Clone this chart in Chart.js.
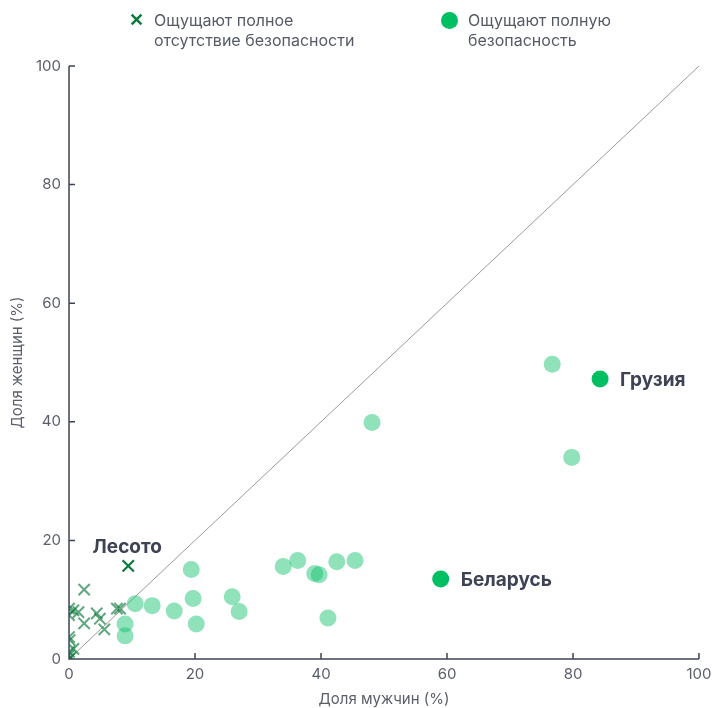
<!DOCTYPE html>
<html lang="ru">
<head>
  <meta charset="UTF-8" />
  <title>Безопасность: мужчины и женщины</title>
  <script src="https://cdn.jsdelivr.net/npm/chart.js"></script>
  <style>
    body {
      margin: 0;
      background: #fff;
      font-family: Inter, "Noto Sans", sans-serif;
    }
    .wrap {
      position: relative;
      width: 715px;
      height: 708px;
    }
    .legend {
      position: absolute;
      top: 10px;
      font-size: 16px;
      line-height: 20px;
      color: #555a66;
    }
    .legend .mark {
      position: absolute;
    }
    canvas {
      position: absolute;
      left: 0;
      top: 0;
    }
  </style>
</head>
<body>
  <div class="wrap">
    <canvas id="chart" width="715" height="708"></canvas>
    <div class="legend" style="left:154px;">
      <span class="mark" style="color:#0a7a3c;font-size:18px;font-weight:bold;left:-25px;top:0;">✕</span>
      Ощущают полное<br>отсутствие безопасности
    </div>
    <div class="legend" style="left:468px;">
      <span class="mark" style="width:17px;height:17px;border-radius:50%;background:#00bf63;left:-27px;top:2px;"></span>
      Ощущают полную<br>безопасность
    </div>
  </div>

  <script>
    // полное отсутствие безопасности (крестики)
    const insecureMen   = [2.4, 0, 0.7, 1.5, 0, 2.4, 4.4, 4.9, 5.6, 7.6, 8.1, 0, 0.1, 0.7, 0, 0, 0.2, 0];
    const insecureWomen = [11.7, 8.5, 8.2, 7.9, 7.4, 6.0, 7.7, 6.8, 5.0, 8.5, 8.5, 3.7, 3.2, 1.7, 1.2, 0.6, 0.2, 0];

    // полная безопасность (кружки)
    const secureMen   = [76.7, 79.8, 48.1, 45.4, 42.5, 39.0, 39.7, 36.3, 34.0, 41.1, 27.0, 25.9, 19.4, 19.7, 20.2, 16.7, 13.2, 10.5, 8.9, 8.9];
    const secureWomen = [49.7, 34.0, 39.9, 16.6, 16.4, 14.4, 14.2, 16.6, 15.6, 6.9, 8.0, 10.5, 15.1, 10.2, 5.9, 8.1, 9.0, 9.3, 5.9, 3.9];

    // подписанные страны
    const lesotho = { name: 'Лесото', x: 9.4, y: 15.7 };
    const highlighted = [
      { name: 'Грузия', x: 84.3, y: 47.2 },
      { name: 'Беларусь', x: 59.0, y: 13.5 }
    ];

    const axisTicks = [20, 40, 60, 80, 100];

    const toPoints = (xs, ys) => xs.map((x, i) => ({ x: x, y: ys[i] }));

    const axisColor = '#3e4255';
    const textColor = '#5a5e6b';
    const font = 'Inter, "Noto Sans", sans-serif';

    // оси, внутренние засечки и подписи стран
    const decorations = {
      id: 'decorations',
      afterDatasetsDraw(chart) {
        const { ctx, scales: { x, y } } = chart;
        ctx.save();
        ctx.strokeStyle = axisColor;
        ctx.lineWidth = 1.5;
        ctx.beginPath();
        ctx.moveTo(x.left, y.top);
        ctx.lineTo(x.left, y.bottom);
        ctx.lineTo(x.right, y.bottom);
        ctx.stroke();
        axisTicks.forEach(t => {
          const px = x.getPixelForValue(t);
          const py = y.getPixelForValue(t);
          ctx.beginPath();
          ctx.moveTo(px, y.bottom);
          ctx.lineTo(px, y.bottom - 6);
          ctx.moveTo(x.left, py);
          ctx.lineTo(x.left + 6, py);
          ctx.stroke();
        });

        ctx.fillStyle = axisColor;
        ctx.font = 'bold 19px ' + font;
        ctx.textBaseline = 'middle';
        ctx.textAlign = 'center';
        ctx.fillText(lesotho.name, x.getPixelForValue(lesotho.x) - 1, y.getPixelForValue(lesotho.y) - 19);
        ctx.textAlign = 'left';
        highlighted.forEach(c => {
          ctx.fillText(c.name, x.getPixelForValue(c.x) + 20, y.getPixelForValue(c.y) + 1);
        });
        ctx.restore();
      }
    };

    new Chart(document.getElementById('chart'), {
      type: 'scatter',
      data: {
        datasets: [
          {
            type: 'line',
            data: [{ x: 0, y: 0 }, { x: 100, y: 100 }],
            borderColor: '#9a9a9a',
            borderWidth: 1,
            pointRadius: 0,
            order: 5
          },
          {
            data: toPoints(secureMen, secureWomen),
            pointStyle: 'circle',
            pointRadius: 8.5,
            backgroundColor: 'rgba(20, 195, 110, 0.48)',
            borderWidth: 0,
            order: 4
          },
          {
            data: toPoints(insecureMen, insecureWomen),
            pointStyle: 'crossRot',
            pointRadius: 8,
            borderColor: 'rgba(10, 122, 60, 0.65)',
            borderWidth: 2,
            order: 3
          },
          {
            data: [{ x: lesotho.x, y: lesotho.y }],
            pointStyle: 'crossRot',
            pointRadius: 8,
            borderColor: '#0a7a3c',
            borderWidth: 2.2,
            order: 2
          },
          {
            data: highlighted.map(c => ({ x: c.x, y: c.y })),
            pointStyle: 'circle',
            pointRadius: 8.5,
            backgroundColor: '#00bf63',
            borderWidth: 0,
            order: 1
          }
        ]
      },
      options: {
        responsive: false,
        animation: false,
        layout: { padding: { top: 66, right: 2, left: 4, bottom: 0 } },
        plugins: {
          legend: { display: false },
          tooltip: { enabled: false }
        },
        scales: {
          x: {
            min: 0,
            max: 100,
            afterFit: s => { s.paddingRight = 16; },
            grid: { drawOnChartArea: false, drawTicks: false },
            border: { display: false },
            ticks: { stepSize: 20, color: textColor, font: { size: 15, family: font }, padding: 6 },
            title: { display: true, text: 'Доля мужчин (%)', color: textColor, font: { size: 15, family: font }, padding: { top: 1, bottom: 0 } }
          },
          y: {
            min: 0,
            max: 100,
            grid: { drawOnChartArea: false, drawTicks: false },
            border: { display: false },
            ticks: { stepSize: 20, color: textColor, font: { size: 15, family: font }, padding: 8 },
            title: { display: true, text: 'Доля женщин (%)', color: textColor, font: { size: 15, family: font }, padding: { top: 4, bottom: 2 } }
          }
        }
      },
      plugins: [decorations]
    });
  </script>
</body>
</html>
